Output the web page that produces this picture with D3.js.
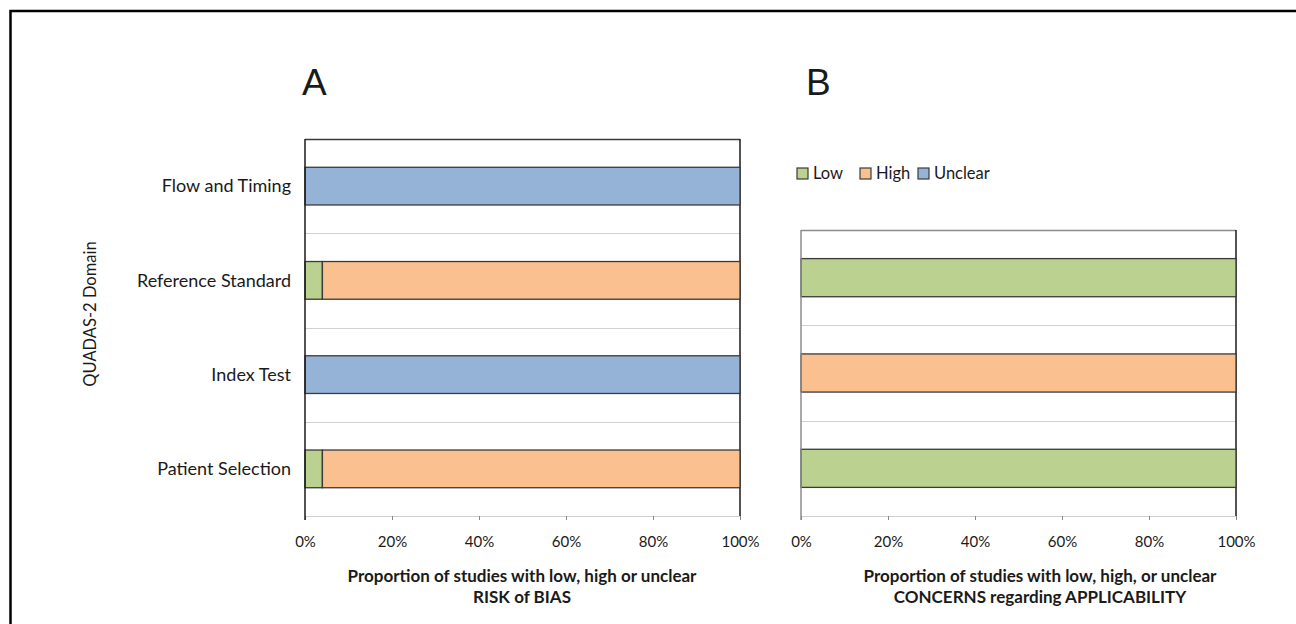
<!DOCTYPE html>
<html>
<head>
<meta charset="utf-8">
<script src="https://cdn.jsdelivr.net/npm/d3@7"></script>
<style>
  html, body { margin: 0; padding: 0; background: #fff; }
  svg { display: block; }
  text { font-family: Lato, "Open Sans", sans-serif; fill: #1a1a1a; }
</style>
</head>
<body>
<svg id="chart" width="1296" height="624"></svg>
<script>
// QUADAS-2 domains, listed top to bottom
const biasDomains = ["Flow and Timing", "Reference Standard", "Index Test", "Patient Selection"];
const applicabilityDomains = ["Reference Standard", "Index Test", "Patient Selection"];
const judgements = ["Low", "High", "Unclear"];

// Percent of studies per judgement (Low, High, Unclear) for each domain
const biasLow     = [0, 4, 0, 4];
const biasHigh    = [0, 96, 0, 96];
const biasUnclear = [100, 0, 100, 0];

const applLow     = [100, 0, 100];
const applHigh    = [0, 100, 0];
const applUnclear = [0, 0, 0];

const xTicks = [0, 20, 40, 60, 80, 100];
const colors = { Low: "#BAD18F", High: "#FAC090", Unclear: "#95B3D7" };

const svg = d3.select("#chart");

// outer frame
svg.append("path")
  .attr("d", "M10.5,624 V11 H1296")
  .attr("fill", "none").attr("stroke", "#000").attr("stroke-width", 2.5);

function stackRows(domains, low, high, unclear) {
  const rows = domains.map((d, i) => ({ domain: d, Low: low[i], High: high[i], Unclear: unclear[i] }));
  return { rows, series: d3.stack().keys(judgements)(rows) };
}

function panel(opts) {
  const { x0, x1, y0, y1, domains, data, showLabels, topStroke, leftStroke } = opts;
  const g = svg.append("g");
  const x = d3.scaleLinear().domain([0, 100]).range([x0, x1]);
  const y = d3.scaleBand().domain(domains).range([y0, y1]).paddingInner(0.6).paddingOuter(0.3);
  const step = y.step();

  // row separators
  g.selectAll("line.sep").data(domains.slice(1)).join("line")
    .attr("class", "sep")
    .attr("x1", x0).attr("x2", x1)
    .attr("y1", d => Math.round(y(d) - y.paddingInner() * step / 2) + 0.5)
    .attr("y2", d => Math.round(y(d) - y.paddingInner() * step / 2) + 0.5)
    .attr("stroke", "#D0D0D0").attr("stroke-width", 1.2);

  // plot frame
  g.append("line").attr("x1", x0).attr("x2", x1).attr("y1", y0 + 0.5).attr("y2", y0 + 0.5)
    .attr("stroke", topStroke).attr("stroke-width", 1.5);
  g.append("line").attr("x1", x1).attr("x2", x1).attr("y1", y0).attr("y2", y1)
    .attr("stroke", "#1a1a1a").attr("stroke-width", 1.5);
  g.append("line").attr("x1", x0).attr("x2", x1).attr("y1", y1 + 0.5).attr("y2", y1 + 0.5)
    .attr("stroke", "#D0D0D0").attr("stroke-width", 1);

  // stacked bars
  g.selectAll("g.series").data(data.series).join("g")
    .attr("class", "series")
    .attr("fill", s => colors[s.key])
    .selectAll("rect").data(s => s.filter(d => d[1] - d[0] > 0)).join("rect")
      .attr("x", d => x(d[0]))
      .attr("width", d => x(d[1]) - x(d[0]))
      .attr("y", d => y(d.data.domain))
      .attr("height", y.bandwidth())
      .attr("stroke", "#3a3a3a").attr("stroke-width", 1.3);

  // x axis
  const xa = g.append("g").attr("transform", `translate(0,${y1})`)
    .call(d3.axisBottom(x).tickValues(xTicks).tickFormat(d => d + "%").tickSize(4).tickSizeOuter(0));
  xa.select(".domain").remove();
  xa.selectAll(".tick line").attr("stroke", "#888");
  xa.selectAll(".tick text").attr("y", 20).attr("font-size", 15)
    .style("font-family", "Lato, sans-serif").attr("fill", "#1a1a1a");

  // left axis line
  g.append("line").attr("x1", x0).attr("x2", x0).attr("y1", y0).attr("y2", y1 + 4)
    .attr("stroke", leftStroke).attr("stroke-width", 1.5);

  if (showLabels) {
    g.selectAll("text.cat").data(domains).join("text")
      .attr("class", "cat")
      .attr("x", x0 - 14)
      .attr("y", d => y(d) + y.bandwidth() / 2)
      .attr("dy", "0.35em")
      .attr("text-anchor", "end")
      .attr("font-size", 18)
      .text(d => d);
  }
  return { x, y };
}

// Panel A: risk of bias
panel({
  x0: 305, x1: 740, y0: 139, y1: 516,
  domains: biasDomains,
  data: stackRows(biasDomains, biasLow, biasHigh, biasUnclear),
  showLabels: true, topStroke: "#3a3a3a", leftStroke: "#1a1a1a"
});

// Panel B: applicability concerns
panel({
  x0: 801, x1: 1236, y0: 230, y1: 516,
  domains: applicabilityDomains,
  data: stackRows(applicabilityDomains, applLow, applHigh, applUnclear),
  showLabels: false, topStroke: "#8c8c8c", leftStroke: "#8c8c8c"
});

// panel letters
svg.append("text").attr("x", 302).attr("y", 95).attr("font-size", 37)
  .style("font-family", "'Liberation Sans', Arial, sans-serif").text("A");
svg.append("text").attr("x", 806).attr("y", 95).attr("font-size", 37)
  .style("font-family", "'Liberation Sans', Arial, sans-serif").text("B");

// y axis title
svg.append("text")
  .attr("transform", "translate(96,314) rotate(-90)")
  .attr("text-anchor", "middle").attr("font-size", 16.5)
  .text("QUADAS-2 Domain");

// x axis titles
const titleA = ["Proportion of studies with low, high or unclear", "RISK of BIAS"];
const titleB = ["Proportion of studies with low, high, or unclear", "CONCERNS regarding APPLICABILITY"];
[[522, titleA], [1040, titleB]].forEach(([cx, lines]) => {
  svg.append("g").selectAll("text").data(lines).join("text")
    .attr("x", cx).attr("y", (d, i) => 582 + i * 21)
    .attr("text-anchor", "middle").attr("font-size", 17).attr("font-weight", 700)
    .text(d => d);
});

// legend
const legendX = [797, 860, 918];
const lg = svg.append("g").selectAll("g").data(judgements).join("g")
  .attr("transform", (d, i) => `translate(${legendX[i]},168)`);
lg.append("rect").attr("width", 11).attr("height", 11)
  .attr("fill", d => colors[d]).attr("stroke", "#3a3a3a").attr("stroke-width", 1.2);
lg.append("text").attr("x", 16).attr("y", 5.5).attr("dy", "0.35em")
  .attr("font-size", 16.5).text(d => d);
</script>
</body>
</html>
